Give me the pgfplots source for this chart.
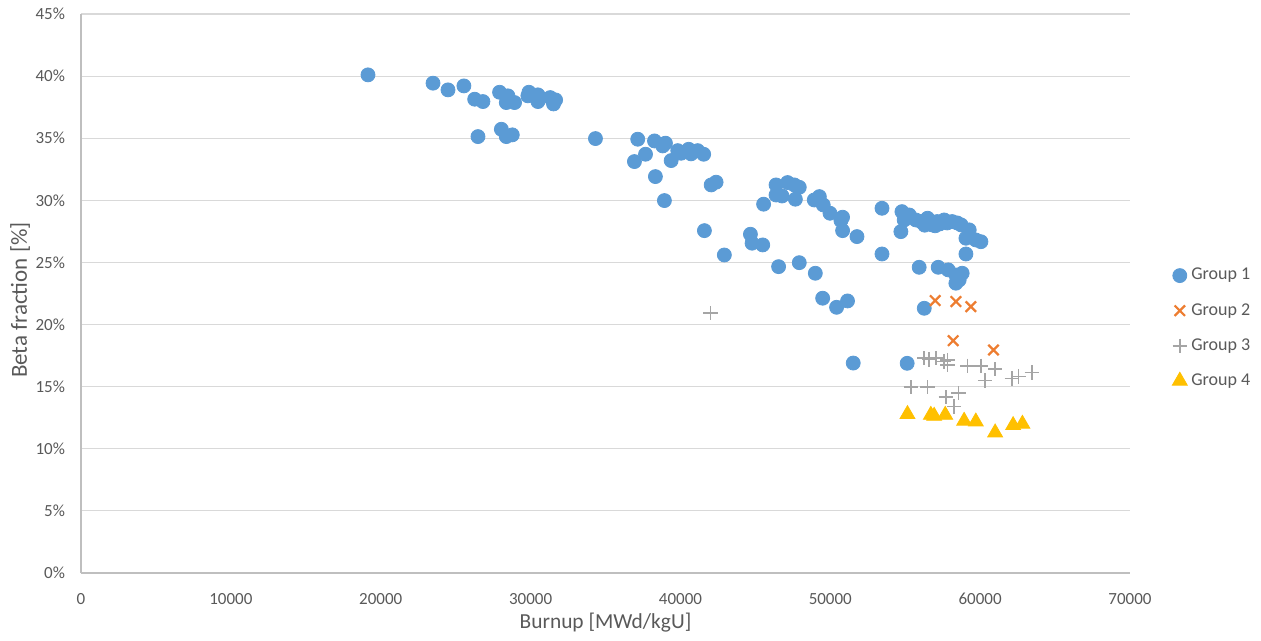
\documentclass[border=0pt]{standalone}
\usepackage{pgfplots}
\pgfplotsset{compat=1.18}
\usepackage{fontspec}
\setmainfont{Carlito}
\definecolor{gA}{HTML}{5B9BD5}
\definecolor{gB}{HTML}{ED7D31}
\definecolor{gC}{HTML}{A5A5A5}
\definecolor{gD}{HTML}{FFC000}
\definecolor{gridc}{HTML}{D9D9D9}
\definecolor{axc}{HTML}{BFBFBF}
\definecolor{txt}{HTML}{595959}
\begin{document}
\begin{tikzpicture}
\path[use as bounding box] (0,0) rectangle (630.5pt,320.5pt);
\begin{axis}[
  at={(40.5pt,34pt)}, anchor=south west,
  scale only axis, width=524.5pt, height=279.5pt,
  xmin=0, xmax=70000, ymin=0, ymax=45,
  xtick={0,10000,...,70000}, ytick={0,5,...,45},
  /pgf/number format/1000 sep={},
  /pgf/number format/assume math mode=true,
  scaled x ticks=false,
  yticklabel={\pgfmathprintnumber{\tick}\%},
  ymajorgrids, grid style={draw=gridc, line width=0.6pt},
  axis x line*=bottom, axis y line*=left,
  axis line style={draw=axc, line width=0.8pt, -},
  major tick style={draw=none},
  ticklabel style={font=\fontsize{8.5pt}{10pt}\selectfont, text=txt},
  yticklabel style={xshift=-4.5pt},
  xticklabel style={yshift=-6.5pt},
  xlabel={Burnup [MWd/kgU]},
  ylabel={Beta fraction [\%]},
  xlabel style={at={(axis description cs:0.5,0)}, anchor=center, yshift=-25pt, font=\fontsize{10.7pt}{12pt}\selectfont, text=txt},
  ylabel style={at={(axis description cs:-0.058,0.488)}, anchor=center, font=\fontsize{11.5pt}{13pt}\selectfont, text=txt},
  legend style={at={(rel axis cs:1.04,0.553)}, anchor=north west, draw=none, fill=none,
    font=\fontsize{9pt}{10pt}\selectfont, text=txt, row sep=6.2pt, inner sep=0pt},
  legend cell align=left,
]
\addplot[only marks, mark=*, mark size=3.5pt, mark options={fill=gA, draw=gA}] table {
x y
19150 40.1
23490 39.43
24490 38.89
25550 39.21
26270 38.14
26820 37.95
27930 38.70
28490 38.41
28380 37.87
28930 37.87
29890 38.70
29820 38.41
30490 38.49
30490 37.95
31310 38.27
31670 38.08
31530 37.76
26490 35.13
28050 35.72
28380 35.13
28780 35.27
34330 34.97
37150 34.92
36930 33.12
37670 33.71
38270 34.78
38820 34.38
39000 34.6
39380 33.20
39820 34.0
40050 33.79
40550 34.11
40710 33.74
41150 34.0
41550 33.71
38330 31.91
38930 29.98
41600 27.56
42050 31.24
42380 31.46
42930 25.6
44670 27.27
44780 26.55
45490 26.41
45550 29.69
46380 31.24
46380 30.43
46780 30.35
47150 31.43
47600 31.24
47930 31.05
47670 30.09
46550 24.66
47930 24.98
49000 24.13
48930 30.03
49270 30.3
49530 29.63
49980 28.96
50820 28.64
50710 28.37
50820 27.56
51780 27.08
53450 29.36
53450 25.68
49490 22.12
50420 21.39
51150 21.9
51530 16.9
54780 29.09
55270 28.82
54930 28.42
54710 27.48
55710 28.42
56050 28.29
56490 28.56
56600 28.16
56800 28.02
56300 28.0
57000 27.95
57300 28.1
57130 28.29
57600 28.42
57800 28.18
58130 28.29
58470 28.18
58730 28.02
59270 27.62
59050 26.95
59710 26.81
60050 26.67
59050 25.68
55930 24.61
57200 24.61
57870 24.40
58380 23.99
58800 24.13
58380 23.33
58600 23.59
56270 21.31
55130 16.88
};
\addlegendentry{Group 1}
\addplot[only marks, mark=x, mark size=3.7pt, mark options={draw=gB, line width=1.1pt}] table {
x y
57000 21.93
58380 21.85
59380 21.44
58200 18.70
60890 17.95
};
\addlegendentry{Group 2}
\addplot[only marks, mark=+, mark size=3.6pt, mark options={draw=gC, line width=0.8pt}] table {
x y
42000 20.93
56270 17.29
56600 17.20
57050 17.29
57600 17.02
57820 17.15
57820 16.75
59150 16.67
60050 16.67
61000 16.40
60330 15.48
62110 15.67
62550 15.81
63450 16.13
55380 14.95
56490 14.95
58550 14.47
57710 14.15
58270 13.39
};
\addlegendentry{Group 3}
\addplot[only marks, mark=triangle*, mark size=4.3pt, mark options={fill=gD, draw=gD}] table {
x y
55150 12.78
56710 12.72
56930 12.64
57670 12.72
58930 12.24
59710 12.18
61000 11.30
62200 11.89
62820 12.00
};
\addlegendentry{Group 4}
\end{axis}
\end{tikzpicture}
\end{document}
